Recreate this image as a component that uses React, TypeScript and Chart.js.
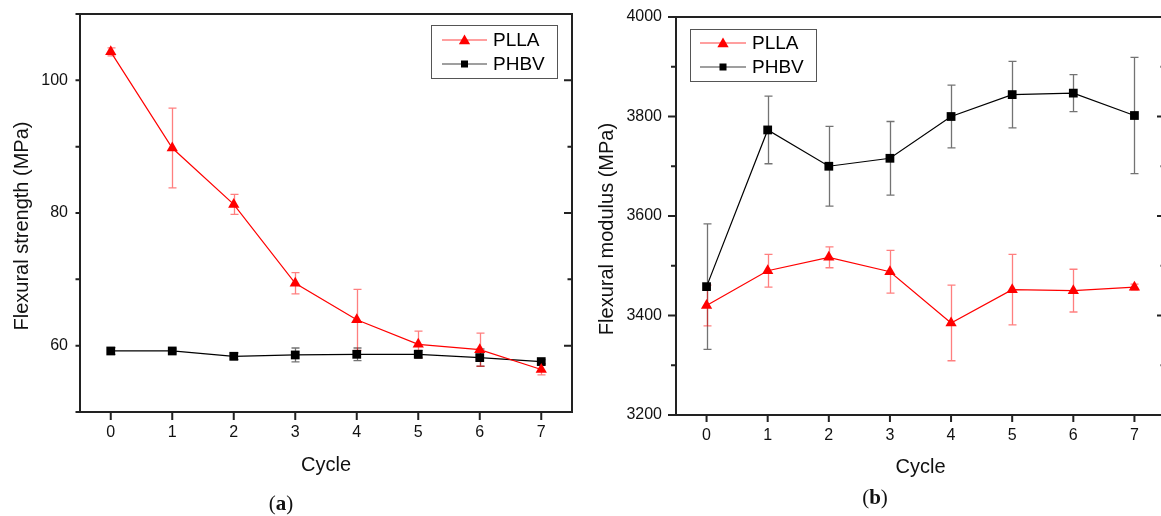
import React, { useEffect, useRef } from "react";
import { Chart, registerables } from "chart.js";

Chart.register(...registerables);

// ---------- data ----------
const CYCLES = [0, 1, 2, 3, 4, 5, 6, 7];

const STRENGTH_PLLA = [104.3, 89.8, 81.3, 69.4, 63.9, 60.2, 59.4, 56.4];
const STRENGTH_PLLA_ERR = [0.6, 6.0, 1.5, 1.6, 4.6, 2.0, 2.5, 0.8];
const STRENGTH_PHBV = [59.2, 59.2, 58.4, 58.6, 58.7, 58.7, 58.2, 57.6];
const STRENGTH_PHBV_ERR = [0.5, 0.3, 0.5, 1.05, 0.95, 0.6, 1.3, 0.3];

const MODULUS_PLLA = [3420, 3490, 3517, 3488, 3385, 3452, 3450, 3457];
const MODULUS_PLLA_ERR = [41, 33, 21, 43, 76, 71, 43, 6];
const MODULUS_PHBV = [3458, 3773, 3700, 3716, 3800, 3844, 3847, 3802];
const MODULUS_PHBV_ERR = [126, 68, 80, 74, 63, 67, 37, 117];

const STRENGTH_MAJOR = [60, 80, 100];
const STRENGTH_MINOR = [50, 70, 90, 110];
const MODULUS_MAJOR = [3200, 3400, 3600, 3800, 4000];
const MODULUS_MINOR = [3300, 3500, 3700, 3900];

const SERIES_NAMES = ["PLLA", "PHBV"];

const FONT = "'Liberation Sans', Arial, Helvetica, sans-serif";
const RED = "#ff0000";
const BLACK = "#000000";

type Cfg = {
  yTitle: string;
  yTitleX: number;
  yTitleY: number;
  yMin: number;
  yMax: number;
  yMajor: number[];
  yMinor: number[];
  plla: number[];
  pllaErr: number[];
  phbv: number[];
  phbvErr: number[];
  padding: { left: number; right: number; top: number; bottom: number };
  yWidth: number;
  xHeight: number;
  xTitlePad: number;
  yLabelPad: number;
  xLabelPad: number;
  leftMajorLen: number;
  leftMinorLen: number;
  bottomLen: number;
  legend: { x: number; y: number; w: number; h: number; row1: number; row2: number; lineX0: number; lineX1: number; textX: number };
};

function drawTriangle(ctx: CanvasRenderingContext2D, x: number, y: number, r: number) {
  const s = Math.sin(Math.PI / 3) * r;
  ctx.beginPath();
  ctx.moveTo(x, y - r);
  ctx.lineTo(x + s, y + r / 2);
  ctx.lineTo(x - s, y + r / 2);
  ctx.closePath();
  ctx.fill();
}

function makeChart(canvas: HTMLCanvasElement, cfg: Cfg) {
  const errorBars = {
    id: "errorBars",
    beforeDatasetsDraw(chart: any) {
      const ctx = chart.ctx as CanvasRenderingContext2D;
      const xs = chart.scales.x;
      const ys = chart.scales.y;
      const groups = [
        { v: cfg.phbv, e: cfg.phbvErr, c: "rgba(0,0,0,0.55)" },
        { v: cfg.plla, e: cfg.pllaErr, c: "rgba(255,0,0,0.5)" },
      ];
      ctx.save();
      ctx.lineWidth = 1.3;
      groups.forEach((g) => {
        ctx.strokeStyle = g.c;
        g.v.forEach((v, i) => {
          const x = Math.round(xs.getPixelForValue(CYCLES[i])) + 0.5;
          const y1 = ys.getPixelForValue(v + g.e[i]);
          const y2 = ys.getPixelForValue(v - g.e[i]);
          ctx.beginPath();
          ctx.moveTo(x, y1);
          ctx.lineTo(x, y2);
          ctx.moveTo(x - 4, y1);
          ctx.lineTo(x + 4, y1);
          ctx.moveTo(x - 4, y2);
          ctx.lineTo(x + 4, y2);
          ctx.stroke();
        });
      });
      ctx.restore();
    },
  };

  const frame = {
    id: "frameTicks",
    afterDraw(chart: any) {
      const ctx = chart.ctx as CanvasRenderingContext2D;
      const { left, right, top, bottom } = chart.chartArea;
      const xs = chart.scales.x;
      const ys = chart.scales.y;
      ctx.save();
      ctx.strokeStyle = "#222";
      ctx.lineWidth = 2;
      ctx.strokeRect(left, top, right - left, bottom - top);
      ctx.beginPath();
      cfg.yMajor.forEach((v) => {
        const y = ys.getPixelForValue(v);
        ctx.moveTo(left - cfg.leftMajorLen, y);
        ctx.lineTo(left, y);
        ctx.moveTo(right - 8, y);
        ctx.lineTo(right, y);
      });
      cfg.yMinor.forEach((v) => {
        const y = ys.getPixelForValue(v);
        ctx.moveTo(left - cfg.leftMinorLen, y);
        ctx.lineTo(left, y);
        if (v > cfg.yMin && v < cfg.yMax) {
          ctx.moveTo(right - 4.5, y);
          ctx.lineTo(right, y);
        }
      });
      CYCLES.forEach((c) => {
        const x = xs.getPixelForValue(c);
        ctx.moveTo(x, bottom);
        ctx.lineTo(x, bottom + cfg.bottomLen);
      });
      ctx.stroke();

      // y-axis title
      ctx.save();
      ctx.translate(cfg.yTitleX, cfg.yTitleY);
      ctx.rotate(-Math.PI / 2);
      ctx.fillStyle = "#111";
      ctx.font = `20px ${FONT}`;
      ctx.textAlign = "center";
      ctx.textBaseline = "alphabetic";
      ctx.fillText(cfg.yTitle, 0, 0);
      ctx.restore();

      // legend
      const L = cfg.legend;
      ctx.lineWidth = 1;
      ctx.strokeStyle = "#555";
      ctx.strokeRect(L.x + 0.5, L.y + 0.5, L.w, L.h);
      const cx = (L.lineX0 + L.lineX1) / 2;
      ctx.strokeStyle = "rgba(255,0,0,0.75)";
      ctx.lineWidth = 1.2;
      ctx.beginPath();
      ctx.moveTo(L.lineX0, L.row1);
      ctx.lineTo(L.lineX1, L.row1);
      ctx.stroke();
      ctx.fillStyle = RED;
      drawTriangle(ctx, cx, L.row1 + 1, 6.5);
      ctx.strokeStyle = "rgba(0,0,0,0.75)";
      ctx.beginPath();
      ctx.moveTo(L.lineX0, L.row2);
      ctx.lineTo(L.lineX1, L.row2);
      ctx.stroke();
      ctx.fillStyle = BLACK;
      ctx.fillRect(cx - 3.5, L.row2 - 3.5, 7, 7);
      ctx.fillStyle = "#000";
      ctx.font = `19px ${FONT}`;
      ctx.textBaseline = "middle";
      ctx.textAlign = "left";
      ctx.fillText(SERIES_NAMES[0], L.textX, L.row1 + 1);
      ctx.fillText(SERIES_NAMES[1], L.textX, L.row2 + 1);
      ctx.restore();
    },
  };

  return new Chart(canvas, {
    type: "line",
    data: {
      datasets: [
        {
          label: SERIES_NAMES[0],
          data: CYCLES.map((c, i) => ({ x: c, y: cfg.plla[i] })),
          borderColor: RED,
          backgroundColor: RED,
          borderWidth: 1.2,
          pointStyle: "triangle",
          pointRadius: 6.5,
          pointBorderWidth: 0,
          pointBackgroundColor: RED,
          tension: 0,
          order: 0,
        },
        {
          label: SERIES_NAMES[1],
          data: CYCLES.map((c, i) => ({ x: c, y: cfg.phbv[i] })),
          borderColor: BLACK,
          backgroundColor: BLACK,
          borderWidth: 1.2,
          pointStyle: "rect",
          pointRadius: 6.2,
          pointBorderWidth: 0,
          pointBackgroundColor: BLACK,
          tension: 0,
          order: 1,
        },
      ],
    },
    options: {
      responsive: false,
      animation: false,
      events: [],
      layout: { padding: cfg.padding },
      plugins: {
        legend: { display: false },
        tooltip: { enabled: false },
        title: { display: false },
      },
      scales: {
        x: {
          type: "linear",
          position: "bottom",
          min: -0.5,
          max: 7.5,
          afterBuildTicks: (s: any) => {
            s.ticks = CYCLES.map((v) => ({ value: v }));
          },
          afterFit: (s: any) => {
            s.height = cfg.xHeight;
            s.paddingLeft = 0;
            s.paddingRight = 0;
          },
          grid: { display: false, drawTicks: false, tickLength: 0 },
          border: { display: false },
          ticks: {
            padding: cfg.xLabelPad,
            color: "#111",
            font: { family: FONT, size: 16 },
            maxRotation: 0,
            autoSkip: false,
            callback: (v: any) => String(v),
          },
          title: {
            display: true,
            text: "Cycle",
            color: "#111",
            font: { family: FONT, size: 20 },
            padding: { top: 0, bottom: cfg.xTitlePad },
          },
        },
        y: {
          type: "linear",
          position: "left",
          min: cfg.yMin,
          max: cfg.yMax,
          afterBuildTicks: (s: any) => {
            s.ticks = cfg.yMajor.map((v) => ({ value: v }));
          },
          afterFit: (s: any) => {
            s.width = cfg.yWidth;
            s.paddingTop = 0;
            s.paddingBottom = 0;
          },
          grid: { display: false, drawTicks: false, tickLength: 0 },
          border: { display: false },
          ticks: {
            padding: cfg.yLabelPad,
            color: "#111",
            font: { family: FONT, size: 16 },
            autoSkip: false,
            callback: (v: any) => String(v),
          },
          title: { display: false },
        },
      },
    },
    plugins: [errorBars, frame],
  } as any);
}

const CFG_A: Cfg = {
  yTitle: "Flexural strength (MPa)",
  yTitleX: 28,
  yTitleY: 226,
  yMin: 50,
  yMax: 110,
  yMajor: STRENGTH_MAJOR,
  yMinor: STRENGTH_MINOR,
  plla: STRENGTH_PLLA,
  pllaErr: STRENGTH_PLLA_ERR,
  phbv: STRENGTH_PHBV,
  phbvErr: STRENGTH_PHBV_ERR,
  padding: { left: 0, right: 18, top: 14, bottom: 34 },
  yWidth: 80,
  xHeight: 70,
  xTitlePad: 5,
  yLabelPad: 12,
  xLabelPad: 11,
  leftMajorLen: 4.5,
  leftMinorLen: 4.5,
  bottomLen: 8,
  legend: { x: 431, y: 25, w: 126, h: 53, row1: 40, row2: 64, lineX0: 442, lineX1: 487, textX: 493 },
};

const CFG_B: Cfg = {
  yTitle: "Flexural modulus (MPa)",
  yTitleX: 23,
  yTitleY: 229,
  yMin: 3200,
  yMax: 4000,
  yMajor: MODULUS_MAJOR,
  yMinor: MODULUS_MINOR,
  plla: MODULUS_PLLA,
  pllaErr: MODULUS_PLLA_ERR,
  phbv: MODULUS_PHBV,
  phbvErr: MODULUS_PHBV_ERR,
  padding: { left: 0, right: 15, top: 17, bottom: 31 },
  yWidth: 86,
  xHeight: 70,
  xTitlePad: 6,
  yLabelPad: 14,
  xLabelPad: 11,
  leftMajorLen: 8,
  leftMinorLen: 5,
  bottomLen: 7,
  legend: { x: 100, y: 29, w: 126, h: 52, row1: 43, row2: 67, lineX0: 110, lineX1: 156, textX: 162 },
};

function Panel({ cfg, left, width }: { cfg: Cfg; left: number; width: number }) {
  const ref = useRef<HTMLCanvasElement | null>(null);
  useEffect(() => {
    if (!ref.current) return;
    const ch = makeChart(ref.current, cfg);
    return () => ch.destroy();
  }, [cfg]);
  return (
    <canvas
      ref={ref}
      width={width}
      height={516}
      style={{ position: "absolute", left, top: 0, width, height: 516 }}
    />
  );
}

const capStyle: React.CSSProperties = {
  position: "absolute",
  fontFamily: "'Liberation Serif', 'DejaVu Serif', serif",
  fontSize: 21,
  lineHeight: "24px",
  color: "#111",
  transform: "translate(-50%, -50%)",
  whiteSpace: "nowrap",
};

export default function App() {
  return (
    <div
      style={{
        position: "absolute",
        left: 0,
        top: 0,
        width: 1161,
        height: 516,
        overflow: "hidden",
        background: "#fff",
      }}
    >
      <Panel cfg={CFG_A} left={0} width={590} />
      <Panel cfg={CFG_B} left={590} width={590} />
      <div style={{ ...capStyle, left: 281, top: 503 }}>
        (<b>a</b>)
      </div>
      <div style={{ ...capStyle, left: 875, top: 497 }}>
        (<b>b</b>)
      </div>
    </div>
  );
}
